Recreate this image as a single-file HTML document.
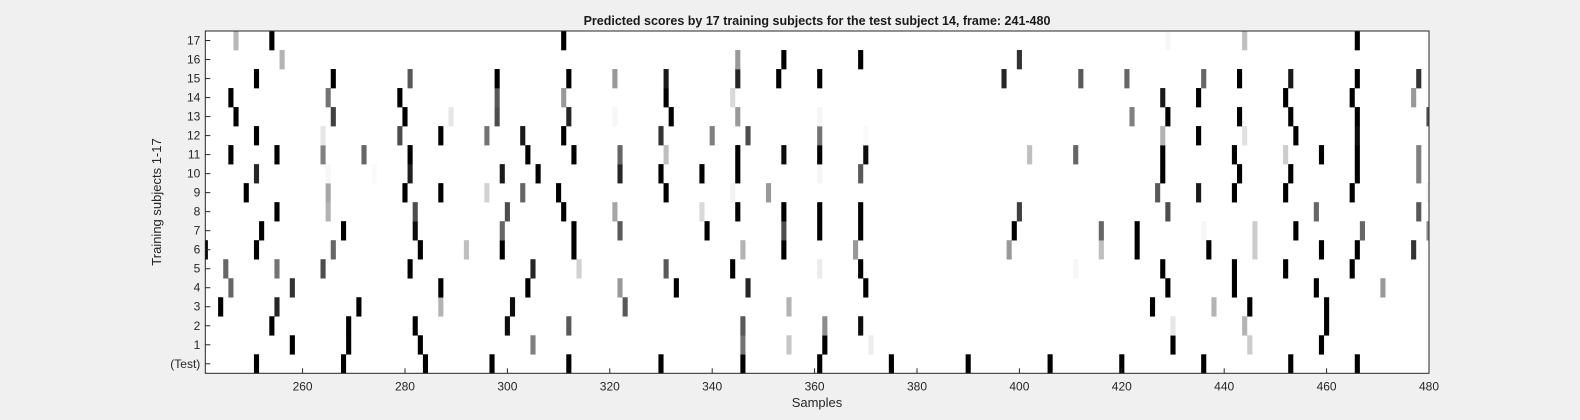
<!DOCTYPE html>
<html><head><meta charset="utf-8"><style>
body{margin:0;background:#f0f0f0;}
svg{display:block;font-family:"Liberation Sans",Arial,sans-serif;}
</style></head><body>
<svg id="chart" width="1580" height="420" xmlns="http://www.w3.org/2000/svg">
<rect x="0" y="0" width="1580" height="420" fill="#f0f0f0"/>
<text x="817" y="25" text-anchor="middle" font-size="12.5" font-weight="bold" fill="#1a1a1a">Predicted scores by 17 training subjects for the test subject 14, frame: 241-480</text>
<rect x="205.3" y="31" width="1223.7" height="342.3" fill="#ffffff"/>
<g id="cells"></g>
<rect x="205.3" y="31" width="1223.7" height="342.3" fill="none" stroke="#262626" stroke-width="1"/>
<g id="xticks"></g>
<g id="yticks"></g>
<text x="817" y="407" text-anchor="middle" font-size="13" fill="#262626">Samples</text>
<text transform="translate(161,202) rotate(-90)" text-anchor="middle" font-size="13" fill="#262626">Training subjects 1-17</text>
</svg>
<script>
// row labels bottom to top
const rowLabels = ["(Test)","1","2","3","4","5","6","7","8","9","10","11","12","13","14","15","16","17"];
const xTicks = [260,280,300,320,340,360,380,400,420,440,460,480];
// per row: frames and gray values (0 black .. 1 white)
const rowFrames = [
 [251,268,284,297,312,330,346,361,375,390,406,420,436,453,466],
 [258,269,283,305,346,355,362,371,430,445,459],
 [254,269,282,300,312,346,362,369,430,444,460],
 [244,255,271,287,301,323,355,426,438,445,460],
 [246,258,287,304,322,333,347,370,429,442,458,471],
 [245,255,264,281,305,314,331,344,361,369,411,428,442,452,465],
 [241,251,266,283,292,299,313,346,354,368,398,416,423,437,446,459,466,477],
 [252,268,282,299,313,322,339,354,361,369,399,416,423,436,446,454,467,480],
 [255,265,282,300,311,321,338,345,354,361,369,400,429,458,478],
 [249,265,280,287,296,303,310,331,344,351,427,435,442,452,465,480],
 [251,265,274,281,299,306,322,330,338,345,361,369,428,443,453,466,478],
 [246,255,264,272,281,304,313,322,331,345,354,361,370,402,411,428,442,452,459,466,478],
 [251,264,279,287,296,303,311,330,340,347,361,370,428,435,444,454,466],
 [247,266,280,289,298,312,321,332,345,361,422,429,443,453,466,480],
 [246,265,279,298,311,331,344,428,435,452,465,477],
 [251,266,281,298,312,321,331,345,353,361,397,412,421,436,443,453,466,478],
 [256,345,354,369,400],
 [247,254,311,429,444,466]
];
const rowValues = [
 [0,0,0,0,0,0,0,0,0,0,0,0,0,0,0],
 [0,0,0,0.5,0.45,0.78,0,0.93,0,0.8,0],
 [0,0,0,0.05,0.35,0.35,0.55,0.05,0.9,0.7,0],
 [0,0.15,0,0.7,0.05,0.35,0.7,0,0.7,0,0],
 [0.4,0.2,0,0,0.6,0,0.15,0,0,0,0,0.6],
 [0.4,0.45,0.3,0,0.15,0.82,0.35,0,0.92,0,0.97,0,0,0,0],
 [0,0,0.4,0,0.75,0,0,0.7,0,0.6,0.6,0.75,0,0,0.8,0,0,0.2],
 [0,0,0.05,0.4,0,0.35,0,0.3,0,0,0,0.4,0,0.97,0.8,0,0.4,0.55],
 [0,0.7,0.3,0.3,0,0.65,0.85,0,0,0,0,0.25,0.3,0.4,0.35],
 [0,0.65,0,0,0.82,0.4,0,0,0.95,0.6,0.35,0.1,0,0,0,0.95],
 [0.15,0.97,0.98,0.12,0.1,0,0.15,0,0,0,0.96,0.35,0,0,0,0,0.5],
 [0,0,0.5,0.4,0,0,0,0.4,0.75,0,0.05,0,0.05,0.75,0.4,0,0,0.8,0,0,0.5],
 [0,0.9,0.3,0,0.45,0.1,0,0.2,0.5,0.3,0.45,0.98,0.7,0,0.88,0,0.05],
 [0,0.25,0,0.9,0.3,0.15,0.97,0,0.6,0.96,0.5,0,0,0,0,0.3],
 [0,0.45,0,0.35,0.6,0,0.85,0.1,0,0,0,0.6],
 [0,0,0.35,0,0,0.6,0.1,0.15,0,0,0.15,0.35,0.4,0.4,0,0.1,0,0.2],
 [0.7,0.6,0,0,0.2],
 [0.72,0,0,0.97,0.75,0]
];
const NS="http://www.w3.org/2000/svg";
const X0=205.3, X1=1429, Y0=31, Y1=373.3, FMIN=241, FMAX=480;
const sx = f => X0 + (f-FMIN)*(X1-X0)/(FMAX-FMIN);
const rowH = (Y1-Y0)/rowLabels.length;
const rowTop = i => Y1 - (i+1)*rowH;
const cells=document.getElementById('cells');
rowFrames.forEach((frames,i)=>{
  frames.forEach((f,j)=>{
    const g=Math.round(rowValues[i][j]*255);
    let a=Math.max(sx(f-0.5),X0), b=Math.min(sx(f+0.5),X1);
    const r=document.createElementNS(NS,'rect');
    r.setAttribute('x',a); r.setAttribute('y',rowTop(i));
    r.setAttribute('width',b-a); r.setAttribute('height',rowH+0.3);
    r.setAttribute('fill',`rgb(${g},${g},${g})`);
    
    
    cells.appendChild(r);
  });
});
const xt=document.getElementById('xticks');
xTicks.forEach(v=>{
  const x=sx(v);
  const l=document.createElementNS(NS,'line');
  l.setAttribute('x1',x);l.setAttribute('x2',x);l.setAttribute('y1',Y1);l.setAttribute('y2',Y1-5);
  l.setAttribute('stroke','#262626');
  
  
  xt.appendChild(l);
  const t=document.createElementNS(NS,'text');
  t.setAttribute('x',x);t.setAttribute('y',Y1+17);t.setAttribute('text-anchor','middle');
  t.setAttribute('font-size','12');t.setAttribute('fill','#262626');
  t.textContent=v;
  
  
  xt.appendChild(t);
});
const yt=document.getElementById('yticks');
rowLabels.forEach((lab,i)=>{
  const y=rowTop(i)+rowH/2;
  const l=document.createElementNS(NS,'line');
  l.setAttribute('x1',X0);l.setAttribute('x2',X0+5);l.setAttribute('y1',y);l.setAttribute('y2',y);
  l.setAttribute('stroke','#262626');
  
  
  yt.appendChild(l);
  const t=document.createElementNS(NS,'text');
  t.setAttribute('x',X0-5);t.setAttribute('y',y+4);t.setAttribute('text-anchor','end');
  t.setAttribute('font-size','12');t.setAttribute('fill','#262626');
  t.textContent=lab;
  
  
  yt.appendChild(t);
});
</script>
</body></html>
